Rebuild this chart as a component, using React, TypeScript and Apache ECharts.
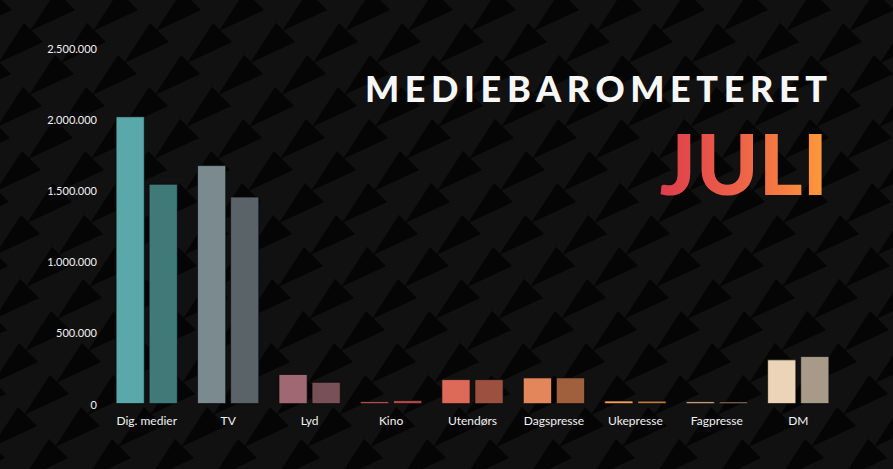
import { useEffect, useRef } from "react";
import * as echarts from "echarts";

const categories = [
  "Dig. medier",
  "TV",
  "Lyd",
  "Kino",
  "Utendørs",
  "Dagspresse",
  "Ukepresse",
  "Fagpresse",
  "DM",
];
const valuesFirst = [2020000, 1677000, 210000, 18000, 174000, 186000, 24000, 18000, 313000];
const valuesSecond = [1546000, 1456000, 155000, 27000, 174000, 186000, 23000, 17000, 336000];
const colorsFirst = [
  "#5aa8a9", "#7b8a8f", "#a06872", "#e0605c", "#dd6a58",
  "#e4865c", "#f0a050", "#f0c898", "#ebd4b8",
];
const colorsSecond = [
  "#3f7a78", "#5a6367", "#785058", "#b04848", "#9c5040",
  "#a0603e", "#b87a40", "#a88468", "#a89a88",
];
const titleText = "MEDIEBAROMETERET";
const monthText = "JULI";

function dotted(v: number): string {
  return String(v).replace(/\B(?=(\d{3})+(?!\d))/g, ".");
}

// background pattern of dark triangles
function patternElements() {
  const els: any[] = [];
  for (let r = -2; r < 16; r++) {
    const y = 23 + r * 32;
    const off = (((24 - r * 32) % 63) + 63) % 63;
    for (let c = -1; c < 16; c++) {
      const x = off + c * 63;
      els.push({
        type: "polygon",
        silent: true,
        z: -10,
        shape: { points: [[x, y], [x + 19, y + 19], [x - 26, y + 40]] },
        style: { fill: "#050505" },
      });
    }
  }
  return els;
}

export default function App() {
  const chartRef = useRef<HTMLDivElement>(null);

  useEffect(() => {
    if (!chartRef.current) return;
    const chart = echarts.init(chartRef.current, null, { renderer: "svg" });

    const makeData = (vals: number[], cols: string[]) =>
      vals.map((v, i) => ({ value: v, itemStyle: { color: cols[i] } }));

    chart.setOption({
      animation: false,
      backgroundColor: "#111111",
      grid: { left: 106, right: 54, top: 48, bottom: 65 },
      xAxis: {
        type: "category",
        data: categories,
        axisLine: { show: false },
        axisTick: { show: false },
        axisLabel: {
          color: "#f2f2f2",
          fontFamily: "Lato",
          fontSize: 12,
          margin: 10,
        },
      },
      yAxis: {
        type: "value",
        min: 0,
        max: 2500000,
        interval: 500000,
        splitLine: { show: false },
        axisLine: { show: false },
        axisTick: { show: false },
        axisLabel: {
          color: "#f2f2f2",
          fontFamily: "Lato",
          fontSize: 11,
          margin: 9,
          formatter: (v: number) => dotted(v),
        },
      },
      series: [
        {
          name: "Periode 1",
          type: "bar",
          barWidth: 29,
          barGap: "14%",
          data: makeData(valuesFirst, colorsFirst),
          itemStyle: { borderColor: "rgba(8,8,8,0.85)", borderWidth: 0.8 },
          z: 2,
        },
        {
          name: "Periode 2",
          type: "bar",
          barWidth: 29,
          data: makeData(valuesSecond, colorsSecond),
          itemStyle: { borderColor: "rgba(8,8,8,0.85)", borderWidth: 0.8 },
          z: 2,
        },
      ],
      graphic: [
        ...patternElements(),
        {
          type: "text",
          z: 10,
          x: 365,
          y: 88,
          style: {
            text: titleText,
            fill: "#f7f7f7",
            font: "900 36px Lato",
            textAlign: "left",
            textVerticalAlign: "middle",
          },
        },
        {
          type: "text",
          z: 10,
          x: 828,
          y: 162,
          style: {
            text: monthText,
            font: "900 84px Lato",
            textAlign: "right",
            textVerticalAlign: "middle",
            fill: "#ee6448",
          },
        },
      ],
    });

    // heading letter spacing and the red-orange gradient on the month
    const svg = chartRef.current.querySelector("svg");
    if (svg) {
      const ns = "http://www.w3.org/2000/svg";
      const defs = document.createElementNS(ns, "defs");
      const grad = document.createElementNS(ns, "linearGradient");
      grad.setAttribute("id", "monthGrad");
      grad.setAttribute("x1", "0");
      grad.setAttribute("y1", "0");
      grad.setAttribute("x2", "1");
      grad.setAttribute("y2", "0");
      [
        ["0", "#de3d4b"],
        ["0.5", "#ee6448"],
        ["1", "#ff9b3a"],
      ].forEach(([o, c]) => {
        const stop = document.createElementNS(ns, "stop");
        stop.setAttribute("offset", o);
        stop.setAttribute("stop-color", c);
        grad.appendChild(stop);
      });
      defs.appendChild(grad);
      svg.insertBefore(defs, svg.firstChild);
      svg.querySelectorAll("text").forEach((t) => {
        if (t.textContent === titleText) t.setAttribute("letter-spacing", "5.6px");
        if (t.textContent === monthText) t.setAttribute("fill", "url(#monthGrad)");
      });
    }

    return () => {
      chart.dispose();
    };
  }, []);

  return (
    <div
      ref={chartRef}
      style={{ position: "absolute", left: 0, top: 0, width: 893, height: 469 }}
    />
  );
}
